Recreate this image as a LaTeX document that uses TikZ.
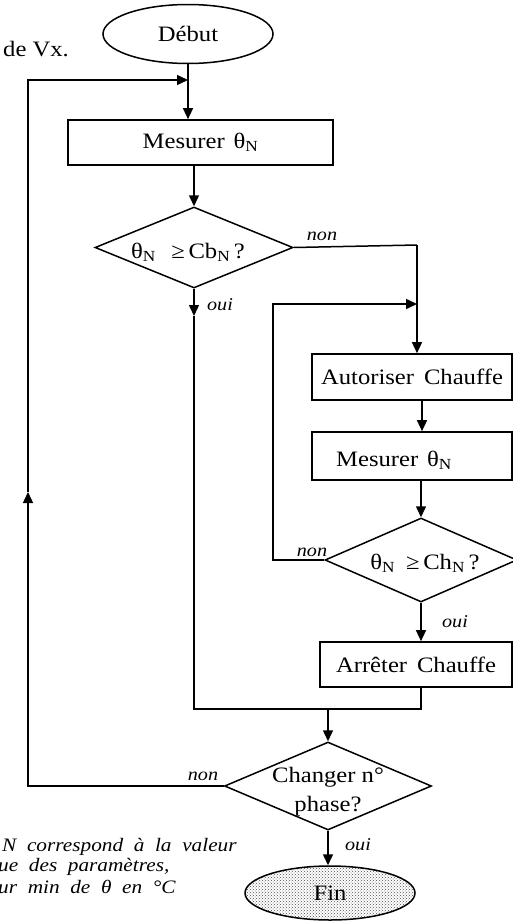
\documentclass[tikz,border=0pt]{standalone}
\usepackage{fontspec}
\setmainfont{Liberation Serif}[FakeStretch=1.12]
\newfontfamily\notefont{Liberation Serif}[FakeStretch=1.12,WordSpace=2]
\usetikzlibrary{arrows.meta,shapes.geometric,patterns}
\begin{document}
\begin{tikzpicture}[x=1pt,y=-1pt,
  ln/.style={line width=1.5pt},
  arr/.style={line width=1.5pt,-{Triangle[length=11pt,width=10pt]}},
  boxn/.style={draw,line width=1.7pt,rectangle,inner sep=0pt},
  dia/.style={draw,line width=1.5pt,diamond,inner sep=0pt,shape aspect=2.4},
  big/.style={font=\fontsize{22}{29}\selectfont},
  lab/.style={font=\itshape\fontsize{18}{20}\selectfont,inner sep=0pt},
  notest/.style={font=\notefont\itshape\fontsize{19}{20}\selectfont,inner sep=0pt,anchor=west}]
\useasboundingbox (0,0) rectangle (513,921);

% nodes
\node[ellipse,draw,ln,minimum width=170pt,minimum height=59pt,inner sep=0pt,big] (debut) at (188,34) {Début};
\node[big,anchor=west,inner sep=0pt] (devx) at (3,49) {de Vx.};
\node[boxn,minimum width=265pt,minimum height=45pt,big] (m1) at (200.5,142.5) {Mesurer\hspace{0.4em}θ\textsubscript{N}};
\node[dia,minimum width=198pt,minimum height=81pt] (d1) at (194,247.5) {};
\node[big,inner sep=0pt] (t1) at (188,252) {θ\textsubscript{N}\hspace{0.7em}≥\,Cb\textsubscript{N}\,?};

\node[boxn,minimum width=200pt,minimum height=46pt,big] (a1) at (412,377) {Autoriser\hspace{0.45em}Chauffe};
\node[boxn,minimum width=200pt,minimum height=48pt] (m2) at (412,456) {};
\node[big,inner sep=0pt] (t2) at (394,460) {Mesurer\hspace{0.4em}θ\textsubscript{N}};
\node[dia,minimum width=192pt,minimum height=84pt] (d2) at (421,560) {};
\node[big,inner sep=0pt] (t2b) at (425,563) {θ\textsubscript{N}\hspace{0.5em}≥\,Ch\textsubscript{N}\,?};
\node[boxn,minimum width=192pt,minimum height=45pt,big] (ar) at (416,664.5) {Arrêter\hspace{0.45em}Chauffe};

\node[dia,minimum width=207pt,minimum height=88pt] (d3) at (328,786) {};
\node[big,align=center,inner sep=0pt] (t3) at (328,792) {Changer n°\\phase?};
\node[ellipse,draw,ln,pattern=crosshatch dots,pattern color=black!70,minimum width=170pt,minimum height=54pt,inner sep=0pt,big] (fin) at (330,893) {Fin};

% coordinates
\coordinate (jTop) at (188,80);
\coordinate (lTop) at (28,80);
\coordinate (lMid) at (28,492);
\coordinate (nR) at (417,245);
\coordinate (iC) at (273,304);
\coordinate (iJ) at (417,304);
\coordinate (oM) at (194,316);
\coordinate (jL) at (194,709);
\coordinate (jB) at (421,709);
\coordinate (jM) at (328,709);

% connectors
\draw[ln] (debut) -- (jTop);
\draw[arr] (jTop) -- (jTop |- m1.north);
\draw[arr] (m1.south -| d1.north) -- (d1.north);
\draw[ln] (d1.east) -- (nR);
\draw[arr] (nR) -- (nR |- a1.north);
\draw[arr] (d2.west) -| (iC) -- (iJ);
\draw[arr] ([xshift=10pt]a1.south) -- ([xshift=10pt]m2.north);
\draw[arr] (m2.south -| d2.north) -- (d2.north);
\draw[arr] (d2.south) -- (d2.south |- ar.north);
\draw[arr] (d1.south) -- (oM);
\draw[ln] (oM) -- (jL) -- (jB) -- (jB |- ar.south);
\draw[arr] (jM) -- (d3.north);
\draw[arr] (d3.south) -- (d3.south |- fin.north);
\draw[arr] (d3.west) -| (lMid);
\draw[arr] (lMid) -- (lTop) -- (jTop);

% labels
\node[lab] (ln1) at (322,236) {non};
\node[lab] (lo1) at (220,305) {oui};
\node[lab] (ln2) at (312,552) {non};
\node[lab] (lo2) at (455,622) {oui};
\node[lab] (ln3) at (203,776) {non};
\node[lab] (lo3) at (358,845) {oui};

% note
\node[notest] (n1) at (2,847) {N correspond à la valeur};
\node[notest] (n2) at (-2,867) {ue des paramètres,};
\node[notest] (n3) at (-2,887) {ur min de θ en °C};
\end{tikzpicture}
\end{document}
